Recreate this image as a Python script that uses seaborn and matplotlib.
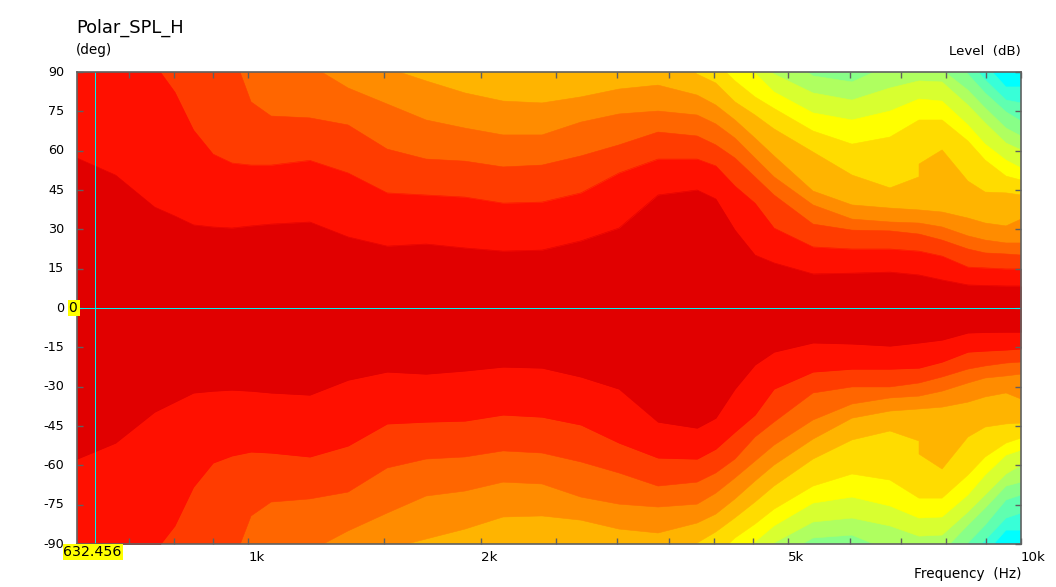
import matplotlib
matplotlib.use("Agg")
import matplotlib.pyplot as plt
from matplotlib.patches import Rectangle
from matplotlib.ticker import NullFormatter
import seaborn as sns

sns.set_theme(style="white")
plt.rcParams["font.family"] = ["DejaVu Sans"]

OFF = 120  # angle beyond the plotted range: that band is not on the chart yet

freq_hz = [600, 673, 756, 803, 849, 900, 952, 1008, 1070, 1201, 1346, 1512, 1698, 1907, 2136, 2399, 2694, 3018,
           3390, 3809, 4027, 4264, 4526, 4790, 5380, 6043, 6767, 7379, 7379, 7905, 8537, 8987, 9564, 10000]

upper_1 = [57.2,50.7,38.5,35.1,31.7,30.9,30.5,31.3,32.0,32.8,27.1,23.6,24.4,22.9,21.7,22.1,25.6,30.5,43.1,45.0,41.6,29.7,20.2,17.2,13.0,13.3,13.7,12.6,12.6,10.7,8.8,8.6,8.4,8.4]
lower_1 = [57.6,51.5,39.7,35.9,32.4,31.7,31.3,31.7,32.4,33.2,27.5,24.4,25.2,24,22.5,22.9,26.3,30.9,43.5,45.8,42,30.9,21.7,16.8,13.3,13.7,14.5,13.3,13.3,12.2,9.5,9.3,9.2,9.2]
upper_2 = [110,110,93,82.4,67.9,58.7,55.3,54.5,54.5,56.3,51.5,43.9,43.1,42.3,40,40.4,43.9,51.5,56.8,56.8,54.2,46.5,40,30.5,23.3,22.5,22.5,21.7,21.7,19.8,15.6,15.3,14.9,14.9]
lower_2 = [110,110,93,83.1,68.3,59.1,56.4,54.9,55.3,56.8,52.6,44.2,43.5,43.1,40.8,41.6,44.6,51.5,57.2,57.6,53.8,47.3,40.8,30.9,24.4,23.3,23.3,22.9,22.9,20.6,16.8,16.4,16,15.6]
upper_3 = [130,130,120,110,105,100,98.4,78.6,73.2,72.5,69.8,60.6,56.8,56,53.8,54.5,58,62.2,67.1,65.6,62.2,57.2,50,43.1,32,29.7,29.4,28.2,28.2,25.9,22.5,21,20.6,20.2]
lower_3 = [130,130,120,110,105,100,98.4,79.3,74,72.8,70.2,61,57.6,56.8,54.5,55.3,58.7,62.9,67.9,66.4,62.9,57.6,49.2,43.5,32.4,30.1,30.1,28.6,28.6,26.3,23.3,22.1,21,20.6]
upper_4 = [130,130,130,130,125,120,120,115,110,92.7,83.9,77.8,71.7,68.6,66,66,70.9,74,75.1,73.6,70.2,64.8,57.2,50,39.3,33.9,32.8,32.4,32.4,30.9,27.5,25.9,24.8,24.8]
lower_4 = [130,130,130,130,125,120,120,115,110,92.7,85,78.2,71.7,69.8,66.4,67.1,72.1,74.8,75.9,74.8,70.6,64.8,58.4,52.3,42.7,36.6,34.3,33.6,33.6,31.7,28.6,26.7,25.9,25.2]
upper_5 = [OFF]*10 + [102,91.5,86.6,82,78.9,78.2,80.5,83.5,85,81.2,77.4,71.7,64.8,58,44.6,39.3,38.1,37.4,37.4,36.6,34.3,32.4,31.3,33.9]
lower_5 = [OFF]*10 + [102,91.9,88.1,84.3,79.7,79.3,80.9,84.3,85.8,82,78.6,72.8,66,59.9,50,42,39.3,38.5,38.5,37.8,35.9,33.9,32.4,34.7]
upper_6 = [OFF]*18 + [102,89.2,85.8,78.6,73.6,68.3,59.5,50.7,45.8,50,54.9,60.3,48.4,44.2,43.9,43.1]
lower_6 = [OFF]*18 + [102,89.6,85.4,80,74,67.9,57.6,50.3,46.9,50.7,55.7,61.4,49.2,45.4,44.2,43.9]
upper_7 = [OFF]*19 + [100,93.8,86.6,80.5,76.1,67.5,62.5,65.2,71.7,71.7,71.7,63.7,56.4,50.3,48.8]
lower_7 = [OFF]*19 + [100,94.6,87.7,82.4,76.7,67.9,63.3,65.6,72.5,72.5,72.5,63.7,56.8,51.5,49.6]
upper_8 = [OFF]*19 + [106,102,96.5,89.6,82.4,74.4,71.7,75.1,79.7,79.7,78.9,69.8,62.5,56.4,53.4]
lower_8 = [OFF]*19 + [106,102,95.7,89.2,83.1,74.4,72.1,75.5,80.1,80.1,79.7,71.3,63.7,56.1,54.2]
upper_9 = [OFF]*19 + [108,104,98.9,94.6,89.2,82,79.3,83.9,86.6,86.6,86.2,77.4,70.6,62.9,60.3]
lower_9 = [OFF]*19 + [108,104,99,94.6,89.6,81.6,80.1,83.1,87,87,86.6,77.8,71.3,63.3,59.9]
upper_10 = [OFF]*21 + [102,100,98.4,88.5,86.2,92.7,94.6,94.6,90.8,83.1,76.3,68.6,65.6]
lower_10 = [OFF]*21 + [102,100,96.1,87.7,86.6,92.5,95,95,93,82.8,76.3,67.9,66.4]
upper_11 = [OFF]*29 + [102,89.2,82,74.8,71.3]
lower_11 = [OFF]*29 + [102,89.6,82.8,73.2,71.3]
upper_12 = [OFF]*29 + [106,94.6,87,79.3,78.2]
lower_12 = [OFF]*29 + [106,94.6,88.5,80.1,78.2]
upper_13 = [OFF]*30 + [106,93,84.3,84.3]
lower_13 = [OFF]*30 + [106,93.8,84.7,84.7]

band_colors = ["#E10000", "#FF1000", "#FF3C00", "#FF6600", "#FF8C00", "#FFB400", "#FFDC00",
               "#FFFF00", "#D8FF30", "#AFFF60", "#88FF88", "#60FFB0", "#38FFD8"]
outer_color = "#00FFFF"

uppers = [upper_1, upper_2, upper_3, upper_4, upper_5, upper_6, upper_7,
          upper_8, upper_9, upper_10, upper_11, upper_12, upper_13]
lowers = [lower_1, lower_2, lower_3, lower_4, lower_5, lower_6, lower_7,
          lower_8, lower_9, lower_10, lower_11, lower_12, lower_13]

major_ticks = [1000, 2000, 5000, 10000]
major_labels = ["1k", "2k", "5k", "10k"]
minor_ticks = [700, 800, 900, 1500, 2500, 3000, 3500, 4000, 4500, 6000, 7000, 8000, 9000]
angle_ticks = [90, 75, 60, 45, 30, 15, 0, -15, -30, -45, -60, -75, -90]
cursor_freq = 632.456
cursor_angle = 0

W, H = 1056, 587
fig = plt.figure(figsize=(W / 100, H / 100), dpi=100, facecolor="white")
ax = fig.add_axes([77 / W, 1 - 544 / H, 944 / W, 472 / H])
ax.set_facecolor(outer_color)
ax.set_xscale("log")

for i in range(len(band_colors) - 1, -1, -1):
    up, lo = uppers[i], lowers[i]
    neg = [-v for v in lo]
    c = band_colors[i]
    ax.fill_between(freq_hz, neg, up, color=c, linewidth=0, zorder=2 + (12 - i) * 0.01)
    sns.lineplot(x=freq_hz, y=up, ax=ax, color=c, linewidth=0.4, sort=False, estimator=None,
                 errorbar=None, zorder=2 + (12 - i) * 0.01)
    sns.lineplot(x=freq_hz, y=neg, ax=ax, color=c, linewidth=0.4, sort=False, estimator=None,
                 errorbar=None, zorder=2 + (12 - i) * 0.01)

ax.set_xlim(600, 10000)
ax.set_ylim(-90, 90)
ax.set_xlabel("")
ax.set_ylabel("")

GRAY = "#606060"
ax.set_xticks(major_ticks)
ax.set_xticks(minor_ticks, minor=True)
ax.xaxis.set_minor_formatter(NullFormatter())
ax.set_xticklabels(major_labels, ha="left", fontsize=9.6, color="black")
ax.set_yticks(angle_ticks)
ax.set_yticklabels([str(a) for a in angle_ticks], fontsize=9.2, color="black")
ax.tick_params(axis="both", which="both", direction="in", length=4, width=1, color=GRAY,
               top=True, right=True, bottom=True, left=True)
ax.tick_params(axis="x", which="major", pad=5)
ax.tick_params(axis="y", which="major", pad=9.3)
for lab in ax.get_yticklabels():
    lab.set_verticalalignment("center")
for s in ax.spines.values():
    s.set_color(GRAY)
    s.set_linewidth(1.2)
    s.set_zorder(10)
    s.set_visible(True)
for t in ax.xaxis.get_major_ticks() + ax.xaxis.get_minor_ticks() + ax.yaxis.get_major_ticks():
    t.tick1line.set_zorder(9)
    t.tick2line.set_zorder(9)
ax.set_axisbelow(False)

ax.axvline(cursor_freq, color="#00F0F0", linewidth=0.72, zorder=8, antialiased=False)
ax.axhline(cursor_angle, color="#00F0F0", linewidth=0.72, zorder=8, antialiased=False)


def ftext(x, y, s, size, ha="left", va="center"):
    fig.text(x / W, 1 - y / H, s, fontsize=size, ha=ha, va=va, color="black", zorder=20)


def box(x0, y0, x1, y1):
    fig.add_artist(Rectangle((x0 / W, 1 - y1 / H), (x1 - x0) / W, (y1 - y0) / H,
                             transform=fig.transFigure, facecolor="#FFFF00",
                             edgecolor="none", zorder=15))


ftext(76, 28, "Polar_SPL_H", 12.9)
ftext(76, 50, "(deg)", 9.8)
ftext(1021, 51, "Level  (dB)", 9.6, ha="right")
ftext(1021, 574, "Frequency  (Hz)", 9.8, ha="right")
box(68, 300, 80, 316)
ftext(68.5, 308.5, "0", 10)
box(63, 544, 123, 560)
ftext(63.5, 552.5, "632.456", 10.2)

fig.savefig("out.png", dpi=100, facecolor="white")
